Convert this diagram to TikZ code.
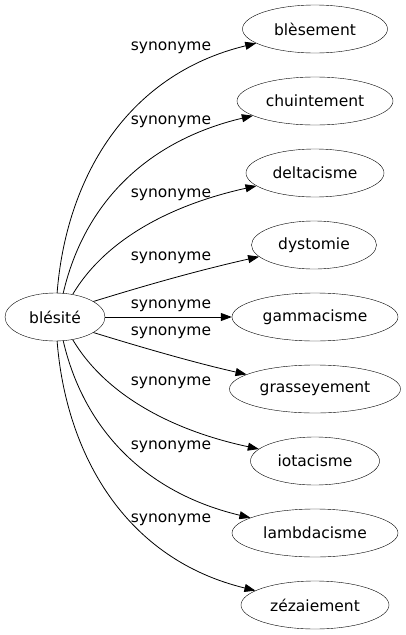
\documentclass[tikz,border=0pt]{standalone}
\usepackage{fontspec}
\setmainfont{DejaVu Sans}
\usetikzlibrary{shapes.geometric,arrows.meta}
\begin{document}
\begin{tikzpicture}[x=1pt,y=-1pt,
  word/.style={draw,ellipse,inner sep=0pt,minimum height=48pt,font=\fontsize{15.5}{18}\selectfont},
  lbl/.style={inner sep=0pt,font=\fontsize{15.5}{18}\selectfont},
  rel/.style={line width=0.8pt,-{Triangle[length=11pt,width=8pt]}}]
\useasboundingbox (0,0) rectangle (405,635);
\node[word,minimum width=100pt] (s) at (55,317) {blésité};
\node[word,minimum width=145pt] (t1) at (315,29) {blèsement};
\node[word,minimum width=156pt] (t2) at (315,101) {chuintement};
\node[word,minimum width=138pt] (t3) at (315,173) {deltacisme};
\node[word,minimum width=125pt] (t4) at (314,245) {dystomie};
\node[word,minimum width=166pt] (t5) at (315,317) {gammacisme};
\node[word,minimum width=171pt] (t6) at (315,389) {grasseyement};
\node[word,minimum width=129pt] (t7) at (315,461) {iotacisme};
\node[word,minimum width=166pt] (t8) at (315,533) {lambdacisme};
\node[word,minimum width=148pt] (t9) at (315,605) {zézaiement};
\node[lbl] (l1) at (171,48) {synonyme};
\node[lbl] (l2) at (171,122) {synonyme};
\node[lbl] (l3) at (171,195) {synonyme};
\node[lbl] (l4) at (171,258) {synonyme};
\node[lbl] (l5) at (171,306) {synonyme};
\node[lbl] (l6) at (171,333) {synonyme};
\node[lbl] (l7) at (171,383) {synonyme};
\node[lbl] (l8) at (171,447) {synonyme};
\node[lbl] (l9) at (171,520) {synonyme};
\draw[rel] (s.85) .. controls (66,180) and (125,75) .. (t1);
\draw[rel] (s.71) .. controls (85,200) and (150,140) .. (t2);
\draw[rel] (s.52) .. controls (105,240) and (170,205) .. (t3);
\draw[rel] (s.22) .. controls (150,284) and (200,270) .. (t4.192);
\draw[rel] (s.0) -- (t5);
\draw[rel] (s.-22) .. controls (150,350) and (200,364) .. (t6.168);
\draw[rel] (s.-52) .. controls (105,394) and (170,430) .. (t7);
\draw[rel] (s.-71) .. controls (85,434) and (150,494) .. (t8);
\draw[rel] (s.-85) .. controls (66,454) and (125,559) .. (t9);
\end{tikzpicture}
\end{document}
